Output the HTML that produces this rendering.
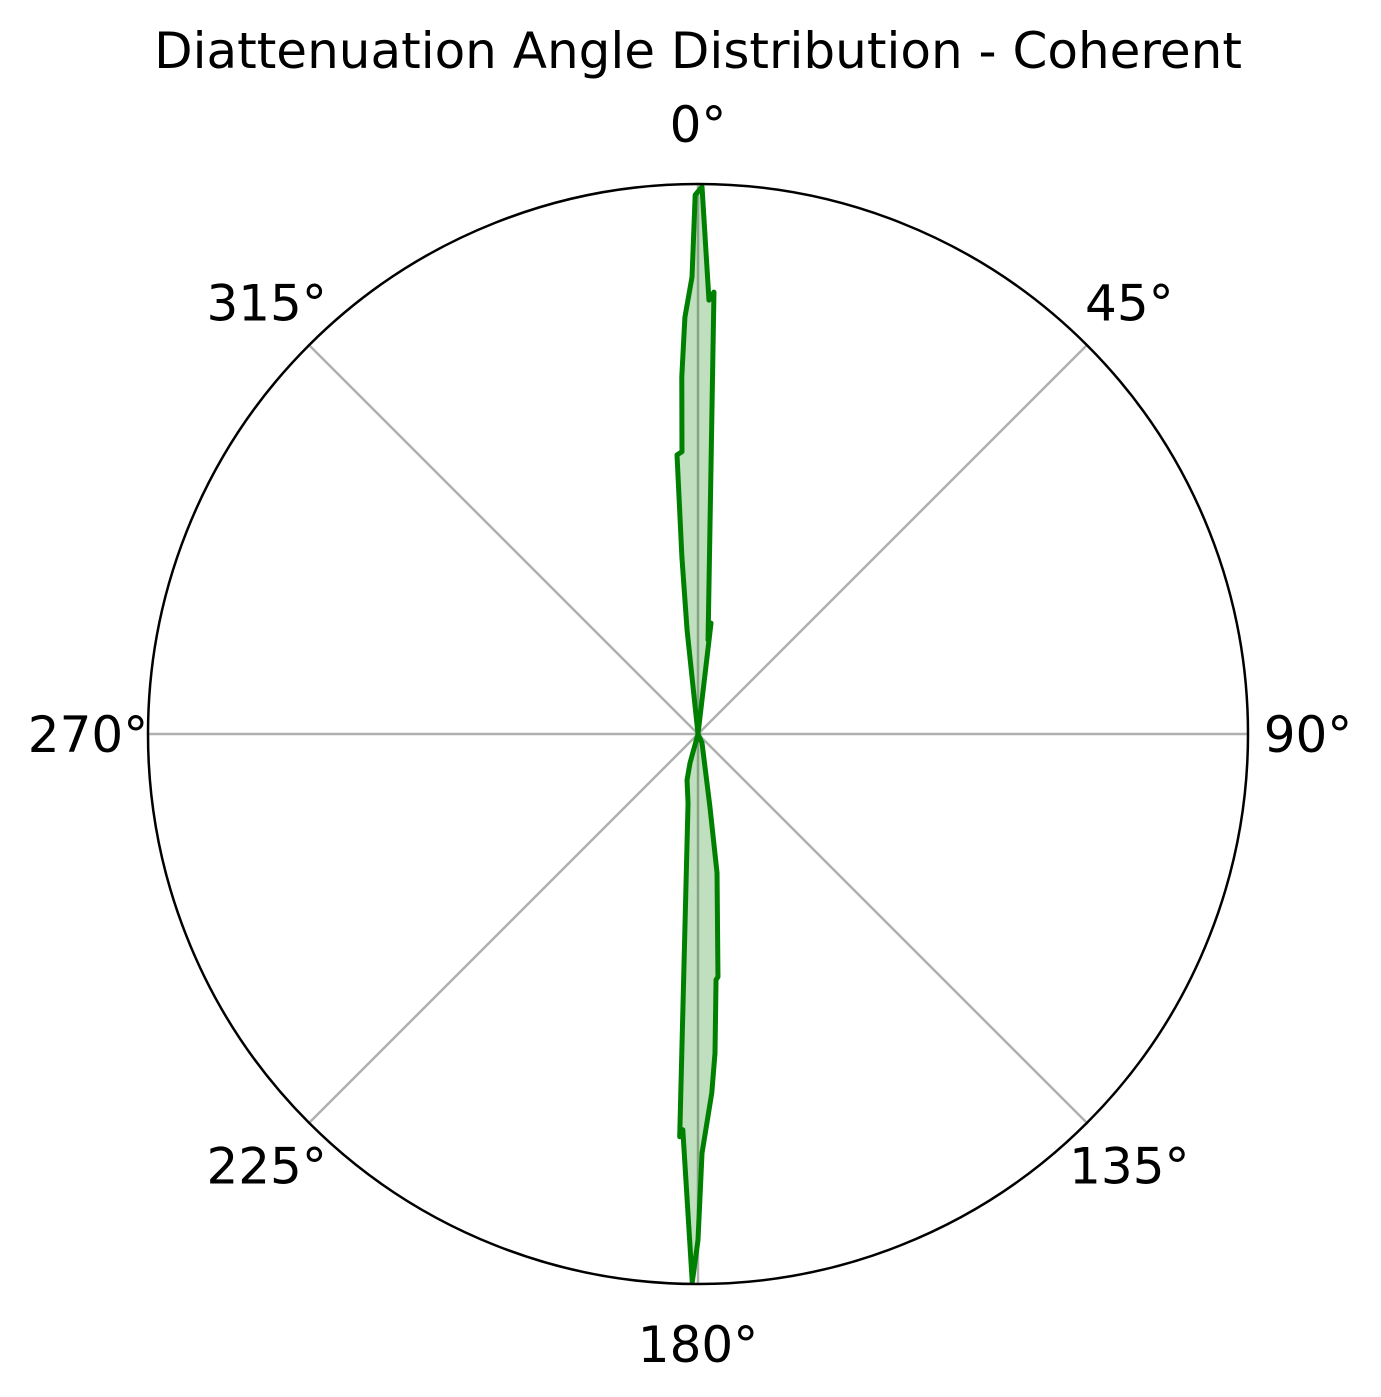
<!DOCTYPE html>
<html><head><meta charset="utf-8"><style>
html,body{margin:0;padding:0;background:#fff;}
svg{display:block;font-family:"DejaVu Sans","Liberation Sans",sans-serif;}
</style></head><body>
<svg id="chart" width="1381" height="1397" viewBox="0 0 1381 1397">
<text x="698" y="68" font-size="50" text-anchor="middle" fill="#000">Diattenuation Angle Distribution - Coherent</text>
<g id="grid"></g>
<g id="series"></g>
<circle cx="698" cy="734" r="550" fill="none" stroke="#000" stroke-width="2.5"/>
<g id="labels"></g>
</svg>
<script>
const tickAngles = [0,45,90,135,180,225,270,315];
const tickLabels = ["0°","45°","90°","135°","180°","225°","270°","315°"];
const thetaDeg = [0.42,1.45,2.07,6.1,6.7,8,150,156,170.7,172.2,175.3,175.8,176.95,177.8,179.45,180,180.6,182.2,182.6,188.2,193.4,195.4,200,350,354.0,354.8,355.7,356.75,357.4,358.2,359.25,359.7];
const radii   = [0.995,0.789,0.804,0.172,0.203,0,0,0.018,0.134,0.255,0.443,0.448,0.581,0.653,0.762,0.92,0.997,0.72,0.733,0.127,0.086,0.055,0,0,0.19,0.323,0.509,0.514,0.65,0.758,0.831,0.98];

const NS="http://www.w3.org/2000/svg";
const cx=698, cy=734, R=550, LR=610;
function px(t,r){const a=t*Math.PI/180;return [cx+Math.sin(a)*r*R, cy-Math.cos(a)*r*R];}
const grid=document.getElementById('grid');
tickAngles.forEach((t,i)=>{
  const l=document.createElementNS(NS,'line');
  const p=px(t,1);
  l.setAttribute('x1',cx);l.setAttribute('y1',cy);l.setAttribute('x2',p[0]);l.setAttribute('y2',p[1]);
  l.setAttribute('stroke','#b0b0b0');l.setAttribute('stroke-width','2.5');
  
  
  grid.appendChild(l);
  const a=t*Math.PI/180;
  const tx=document.createElementNS(NS,'text');
  tx.setAttribute('x',cx+Math.sin(a)*LR);tx.setAttribute('y',cy-Math.cos(a)*LR+18);
  tx.setAttribute('font-size','50');tx.setAttribute('text-anchor','middle');
  tx.textContent=tickLabels[i];
  
  
  document.getElementById('labels').appendChild(tx);
});
const pts=thetaDeg.map((t,i)=>px(t,radii[i]).join(',')).join(' ');
const fill=document.createElementNS(NS,'polygon');
fill.setAttribute('points',pts);fill.setAttribute('fill','rgba(0,128,0,0.25)');


document.getElementById('series').appendChild(fill);
const line=document.createElementNS(NS,'polygon');
line.setAttribute('points',pts);line.setAttribute('fill','none');line.setAttribute('stroke','#008000');
line.setAttribute('stroke-width','5');line.setAttribute('stroke-linejoin','round');


document.getElementById('series').appendChild(line);
</script>
</body></html>
